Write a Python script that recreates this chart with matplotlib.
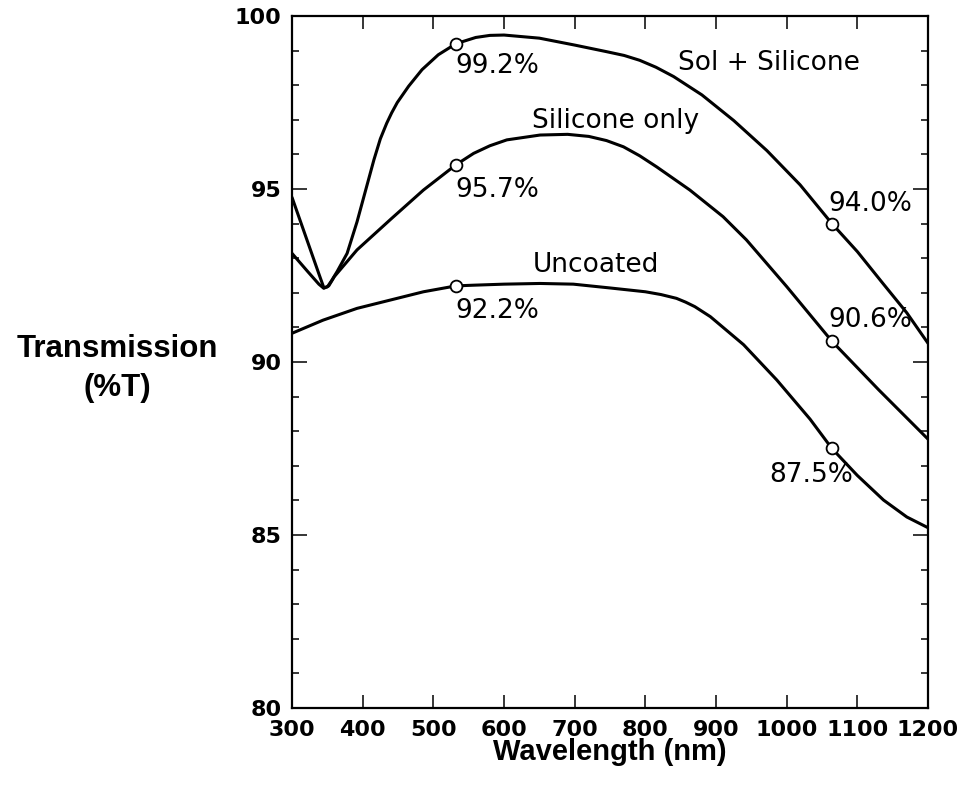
import matplotlib
matplotlib.use("Agg")
import matplotlib.pyplot as plt
from matplotlib.ticker import MultipleLocator

# Transmission spectra (%T) versus wavelength (nm)
sol_wl = [300, 322, 338, 345, 350, 356, 364, 378, 392, 404, 416, 425, 434, 441, 449,
          465, 484, 507, 532, 560, 580, 600, 650, 700, 745, 770, 792, 815, 840, 880,
          925, 972, 1019, 1064, 1100, 1135, 1170, 1200]
sol_T = [94.76, 93.48, 92.55, 92.15, 92.17, 92.35, 92.62, 93.14, 94.05, 94.95, 95.85,
         96.45, 96.90, 97.20, 97.50, 97.97, 98.45, 98.88, 99.20, 99.38, 99.44, 99.45,
         99.36, 99.16, 98.97, 98.86, 98.72, 98.52, 98.25, 97.72, 96.98, 96.11, 95.12,
         94.00, 93.19, 92.30, 91.42, 90.54]

sil_wl = [300, 322, 338, 345, 352, 360, 392, 441, 486, 532, 557, 580, 604, 651, 690,
          720, 745, 769, 792, 816, 863, 910, 943, 1000, 1064, 1130, 1200]
sil_T = [93.14, 92.62, 92.25, 92.13, 92.20, 92.47, 93.24, 94.15, 94.97, 95.70, 96.03,
         96.25, 96.42, 96.56, 96.58, 96.52, 96.40, 96.22, 95.96, 95.64, 94.97, 94.20,
         93.53, 92.18, 90.60, 89.20, 87.77]

unc_wl = [300, 344, 392, 439, 486, 532, 557, 600, 651, 698, 750, 800, 822, 844, 857,
          870, 892, 939, 986, 1033, 1064, 1100, 1137, 1170, 1200]
unc_T = [90.83, 91.21, 91.55, 91.79, 92.03, 92.20, 92.22, 92.25, 92.27, 92.25, 92.14,
         92.03, 91.95, 91.84, 91.73, 91.60, 91.31, 90.50, 89.48, 88.35, 87.50, 86.72,
         86.01, 85.52, 85.21]

# Laser lines marked on every curve
marked_wl = [532, 1064]
sol_marked = [99.2, 94.0]
sil_marked = [95.7, 90.6]
unc_marked = [92.2, 87.5]

curve_names = ["Sol + Silicone", "Silicone only", "Uncoated"]
x_ticks = [300, 400, 500, 600, 700, 800, 900, 1000, 1100, 1200]
y_ticks = [80, 85, 90, 95, 100]

# label placement (wavelength, %T) for each annotation, baseline-anchored
name_pos = [(846, 98.44), (639, 96.75), (640.6, 92.61)]
value_pos = [[(530.6, 98.36), (1059, 94.37)],
             [(530.6, 94.78), (1059, 91.02)],
             [(530.6, 91.26), (975.4, 86.54)]]

fig = plt.figure(figsize=(9.64, 7.85), dpi=100)
ax = fig.add_axes([0.3029, 0.0981, 0.6598, 0.8815])

series = [(sol_wl, sol_T, sol_marked),
          (sil_wl, sil_T, sil_marked),
          (unc_wl, unc_T, unc_marked)]

for i, (wl, T, marked) in enumerate(series):
    ax.plot(wl, T, color="black", lw=2.2, solid_joinstyle="round",
            solid_capstyle="round", zorder=2)
    ax.plot(marked_wl, marked, linestyle="none", marker="o", markersize=8.5,
            markerfacecolor="white", markeredgecolor="black",
            markeredgewidth=1.3, zorder=3)
    ax.text(*name_pos[i], curve_names[i], fontsize=19, family="DejaVu Sans",
            ha="left", va="baseline", zorder=4)
    for (px, py), v in zip(value_pos[i], marked):
        ax.text(px, py, f"{v:.1f}%", fontsize=19, family="DejaVu Sans",
                ha="left", va="baseline", zorder=4)

ax.set_xlim(300, 1200)
ax.set_ylim(80, 100)
ax.set_xticks(x_ticks)
ax.set_xticklabels([str(t) for t in x_ticks])
ax.set_yticks(y_ticks)
ax.set_yticklabels([str(t) for t in y_ticks])
ax.yaxis.set_minor_locator(MultipleLocator(1))

for sp in ax.spines.values():
    sp.set_linewidth(1.6)

ax.tick_params(axis="x", which="major", direction="in", length=9.5, width=1.1,
               top=True, bottom=True, labeltop=False, pad=8.5)
ax.tick_params(axis="y", which="major", direction="in", length=10.8, width=1.1,
               left=True, right=True, labelright=False, pad=7.5)
ax.tick_params(axis="y", which="minor", direction="in", length=5.3, width=1.1,
               left=True, right=True)
for lab in ax.get_xticklabels() + ax.get_yticklabels():
    lab.set_fontfamily("DejaVu Sans")
    lab.set_fontweight("bold")
    lab.set_fontsize(16)

ax.set_xlabel("Wavelength (nm)", fontsize=21, fontweight="bold",
              family="Liberation Sans")
ax.xaxis.set_label_coords(0.5, -0.075)
ax.xaxis.label.set_va("baseline")

ax.set_ylabel("Transmission\n(%T)", fontsize=22.5, fontweight="bold",
              family="Liberation Sans", rotation=0, ha="center", va="center",
              linespacing=1.4)
ax.yaxis.set_label_coords(-0.274, 0.491)

fig.savefig("out.png", dpi=100, facecolor="white")
